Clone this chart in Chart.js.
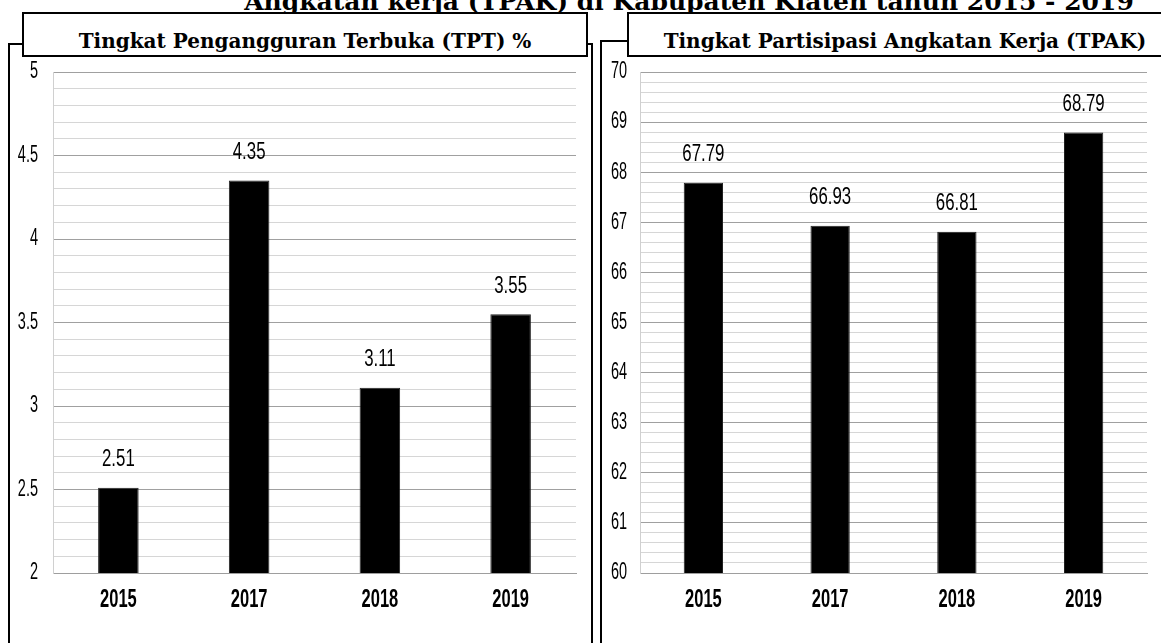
<!DOCTYPE html>
<html>
<head>
<meta charset="utf-8">
<script src="https://cdn.jsdelivr.net/npm/chart.js@4.4.0/dist/chart.umd.min.js"></script>
<style>
    body { margin: 0; width: 1161px; height: 643px; overflow: hidden; background: #fff; position: relative; }
    .box { position: absolute; border: 2px solid #000; box-sizing: border-box; background: transparent; }
    .title-box { position: absolute; border: 2px solid #000; box-sizing: border-box; background: #fff;
        font-family: 'DejaVu Serif', 'Liberation Serif', serif; font-weight: bold; font-size: 20px;
        text-align: center; padding-top: 15px; color: #000; white-space: nowrap; }
    .main-title { position: absolute; left: 0; width: 1378px; top: -11px; line-height: 25px;
        font-family: 'DejaVu Serif', 'Liberation Serif', serif; font-weight: bold; font-size: 25px; text-align: center; }
    canvas { position: absolute; }
</style>
</head>
<body>
<div class="main-title">Angkatan kerja (TPAK) di Kabupaten Klaten tahun 2015 - 2019</div>
<div class="box" style="left:8px; top:43px; width:585px; height:620px;"></div>
<div class="box" style="left:600px; top:40px; width:600px; height:620px;"></div>
<div class="title-box" style="left:22px; top:12px; width:566px; height:45px;">Tingkat Pengangguran Terbuka (TPT) %</div>
<div class="title-box" style="left:627px; top:12px; width:556px; height:45px;">Tingkat Partisipasi Angkatan Kerja (TPAK)</div>

<canvas id="tpt-chart" width="590" height="586" style="left:0; top:57px;"></canvas>
<canvas id="tpak-chart" width="561" height="586" style="left:600px; top:57px;"></canvas>

<script>
const years = ['2015', '2017', '2018', '2019'];
const tptValues = [2.51, 4.35, 3.11, 3.55];
const tpakValues = [67.79, 66.93, 66.81, 68.79];

const labelFamily = "'Liberation Sans', Arial, sans-serif";

// no condensed face installed, so squeeze text horizontally
function narrowText(ctx, text, x, y, font, sx, align) {
    ctx.save();
    ctx.font = font;
    ctx.fillStyle = '#000';
    ctx.textAlign = align;
    ctx.textBaseline = 'middle';
    ctx.translate(x, y);
    ctx.scale(sx, 1);
    ctx.fillText(text, 0, 0);
    ctx.restore();
}

const narrowLabels = {
    id: 'narrowLabels',
    afterDraw(chart) {
        const ctx = chart.ctx;
        const xs = chart.scales.x;
        const ys = chart.scales.y;
        const pad = chart.options.plugins.narrowLabels.yPad;

        ys.ticks.forEach((t, i) => {
            if (t.label === '') return;
            narrowText(ctx, t.label, ys.right - pad, ys.getPixelForTick(i), '23px ' + labelFamily, 0.63, 'right');
        });
        xs.ticks.forEach((t, i) => {
            narrowText(ctx, t.label, xs.getPixelForTick(i), xs.top + 27, 'bold 25px ' + labelFamily, 0.66, 'center');
        });

        // value labels above each bar
        const meta = chart.getDatasetMeta(0);
        meta.data.forEach((bar, i) => {
            const v = chart.data.datasets[0].data[i];
            narrowText(ctx, v.toFixed(2), bar.x, bar.y - 28, '24px ' + labelFamily, 0.7, 'center');
        });
    }
};

function isMajor(v, every) {
    const r = v / every;
    return Math.abs(r - Math.round(r)) < 1e-6;
}

function makeChart(id, values, min, max, step, major, yWidth, tickPad) {
    return new Chart(document.getElementById(id), {
        type: 'bar',
        data: {
            labels: years,
            datasets: [{
                data: values,
                backgroundColor: '#000',
                borderColor: '#222',
                borderWidth: 1,
                barPercentage: 0.62,
                categoryPercentage: 0.5
            }]
        },
        plugins: [narrowLabels],
        options: {
            responsive: false,
            animation: false,
            devicePixelRatio: 1,
            layout: { padding: { top: 15, right: 14, bottom: 0, left: 0 } },
            plugins: {
                legend: { display: false },
                tooltip: { enabled: false },
                narrowLabels: { yPad: tickPad }
            },
            scales: {
                x: {
                    grid: { display: false },
                    border: { display: true, color: '#9e9e9e', width: 1 },
                    ticks: { display: false },
                    afterFit(scale) { scale.height = 70; }
                },
                y: {
                    min: min,
                    max: max,
                    grid: {
                        drawTicks: false,
                        color: ctx => isMajor(ctx.tick.value, major) ? '#a0a0a0' : '#d6d6d6',
                        lineWidth: 1
                    },
                    border: { display: true, color: '#d0d0d0', width: 1 },
                    ticks: {
                        display: false,
                        stepSize: step,
                        autoSkip: false,
                        callback: v => isMajor(v, major) ? String(Math.round(v * 10) / 10) : ''
                    },
                    afterFit(scale) { scale.width = yWidth; }
                }
            }
        }
    });
}

makeChart('tpt-chart', tptValues, 2, 5, 0.1, 0.5, 53, 15);
makeChart('tpak-chart', tpakValues, 60, 70, 0.2, 1, 40, 13);
</script>
</body>
</html>
